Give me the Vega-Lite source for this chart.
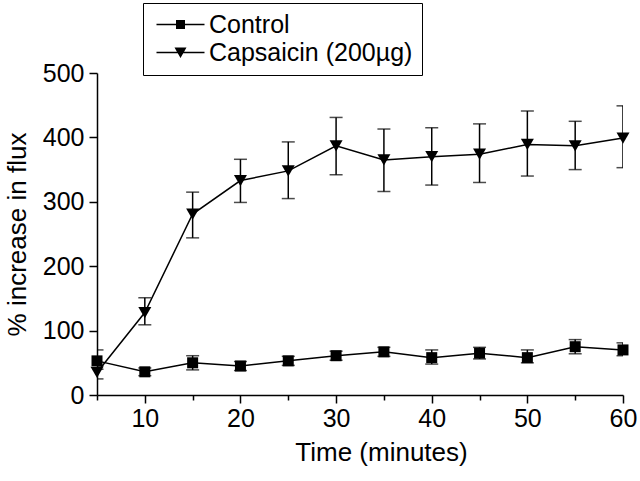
{
  "$schema": "https://vega.github.io/schema/vega-lite/v6.json",
  "width": 526,
  "height": 322,
  "autosize": {"type": "none"},
  "padding": {"left": 97, "top": 73, "right": 17, "bottom": 86},
  "background": "white",
  "config": {
    "view": {"stroke": null},
    "font": "Liberation Sans",
    "axis": {
      "domainColor": "black", "domainWidth": 1.5, "tickColor": "black", "tickWidth": 1.5,
      "labelColor": "black", "titleColor": "black", "grid": false,
      "labelFont": "Liberation Sans", "titleFont": "Liberation Sans",
      "labelFontSize": 25, "titleFontSize": 26, "titleFontWeight": "normal"
    }
  },
  "data": {
    "values": [
      {"t": 5, "group": "Control", "mean": 53, "lo": 40, "hi": 70},
      {"t": 10, "group": "Control", "mean": 36, "lo": 30, "hi": 42},
      {"t": 15, "group": "Control", "mean": 50, "lo": 39, "hi": 61},
      {"t": 20, "group": "Control", "mean": 45, "lo": 38, "hi": 52},
      {"t": 25, "group": "Control", "mean": 53, "lo": 46, "hi": 60},
      {"t": 30, "group": "Control", "mean": 61, "lo": 54, "hi": 68},
      {"t": 35, "group": "Control", "mean": 67, "lo": 60, "hi": 74},
      {"t": 40, "group": "Control", "mean": 58, "lo": 48, "hi": 70},
      {"t": 45, "group": "Control", "mean": 65, "lo": 56, "hi": 74},
      {"t": 50, "group": "Control", "mean": 58, "lo": 50, "hi": 70},
      {"t": 55, "group": "Control", "mean": 75, "lo": 64, "hi": 86},
      {"t": 60, "group": "Control", "mean": 70, "lo": 61, "hi": 81},
      {"t": 5, "group": "Capsaicin (200µg)", "mean": 35, "lo": 25, "hi": 45},
      {"t": 10, "group": "Capsaicin (200µg)", "mean": 128, "lo": 109, "hi": 151},
      {"t": 15, "group": "Capsaicin (200µg)", "mean": 281, "lo": 244, "hi": 315},
      {"t": 20, "group": "Capsaicin (200µg)", "mean": 333, "lo": 299, "hi": 366},
      {"t": 25, "group": "Capsaicin (200µg)", "mean": 348, "lo": 305, "hi": 393},
      {"t": 30, "group": "Capsaicin (200µg)", "mean": 387, "lo": 342, "hi": 431},
      {"t": 35, "group": "Capsaicin (200µg)", "mean": 365, "lo": 316, "hi": 413},
      {"t": 40, "group": "Capsaicin (200µg)", "mean": 370, "lo": 326, "hi": 415},
      {"t": 45, "group": "Capsaicin (200µg)", "mean": 374, "lo": 330, "hi": 421},
      {"t": 50, "group": "Capsaicin (200µg)", "mean": 389, "lo": 340, "hi": 441},
      {"t": 55, "group": "Capsaicin (200µg)", "mean": 387, "lo": 350, "hi": 425},
      {"t": 60, "group": "Capsaicin (200µg)", "mean": 399, "lo": 353, "hi": 449}
    ]
  },
  "layer": [
    {
      "mark": {"type": "line", "color": "black", "strokeWidth": 1.5},
      "encoding": {
        "x": {
          "field": "t", "type": "quantitative", "title": "Time (minutes)",
          "scale": {"domain": [5, 60], "nice": false, "zero": false},
          "axis": {
            "values": [5, 10, 15, 20, 25, 30, 35, 40, 45, 50, 55, 60],
            "labelExpr": "datum.value % 10 === 0 ? datum.label : ''",
            "tickSize": {"condition": {"test": "datum.value % 10 === 0", "value": 8}, "value": 5},
            "labelPadding": 3, "labelFlush": false, "labelOverlap": false,
            "titleX": 284, "titleY": 57,
            "titleBaseline": "middle", "titleAlign": "center", "titleAnchor": null
          }
        },
        "y": {
          "field": "mean", "type": "quantitative", "title": "% increase in flux",
          "scale": {"domain": [0, 500], "nice": false},
          "axis": {
            "values": [0, 50, 100, 150, 200, 250, 300, 350, 400, 450, 500],
            "labelExpr": "datum.value % 100 === 0 ? datum.label : ''",
            "tickSize": {"condition": {"test": "datum.value % 100 === 0", "value": 8}, "value": 5},
            "labelPadding": 5, "labelFlush": false, "labelOverlap": false,
            "titleX": -80, "titleY": 161,
            "titleAngle": 270, "titleBaseline": "middle", "titleAlign": "center", "titleAnchor": null
          }
        },
        "detail": {"field": "group"}
      }
    },
    {
      "mark": {"type": "errorbar", "ticks": {"size": 13}, "thickness": 1.5, "color": "black", "clip": true},
      "encoding": {
        "x": {"field": "t", "type": "quantitative", "title": "Time (minutes)"},
        "y": {"field": "lo", "type": "quantitative", "title": "% increase in flux"},
        "y2": {"field": "hi"},
        "detail": {"field": "group"}
      }
    },
    {
      "mark": {"type": "point", "filled": true, "opacity": 1, "color": "black"},
      "encoding": {
        "x": {"field": "t", "type": "quantitative", "title": "Time (minutes)"},
        "y": {"field": "mean", "type": "quantitative", "title": "% increase in flux"},
        "shape": {"condition": {"test": "datum.group === 'Control'", "value": "square"}, "value": "triangle-down"},
        "size": {"condition": {"test": "datum.group === 'Control'", "value": 121}, "value": 169}
      }
    },
    {
      "mark": {"type": "point", "filled": true, "opacity": 0, "color": "black", "size": 100},
      "encoding": {
        "x": {"field": "t", "type": "quantitative", "title": "Time (minutes)"},
        "y": {"field": "mean", "type": "quantitative", "title": "% increase in flux"},
        "shape": {
          "field": "group", "type": "nominal",
          "scale": {"domain": ["Control", "Capsaicin (200µg)"], "range": ["M-4.8,-0.15H4.8V0.15H-4.8ZM-0.9,-0.9H0.9V0.9H-0.9Z", "M-4.8,-0.15H4.8V0.15H-4.8ZM-1.2,-1H1.2L0,1.1Z"]},
          "legend": {
            "title": null, "orient": "none", "legendX": 46, "legendY": -70,
            "strokeColor": "black", "padding": 9, "fillColor": "white",
            "labelFont": "Liberation Sans", "labelFontSize": 25, "labelColor": "black", "labelLimit": 400,
            "symbolSize": 100, "symbolOffset": 16, "labelOffset": 16, "rowPadding": 2,
            "symbolOpacity": 1, "symbolFillColor": "black"
          }
        }
      }
    }
  ]
}
